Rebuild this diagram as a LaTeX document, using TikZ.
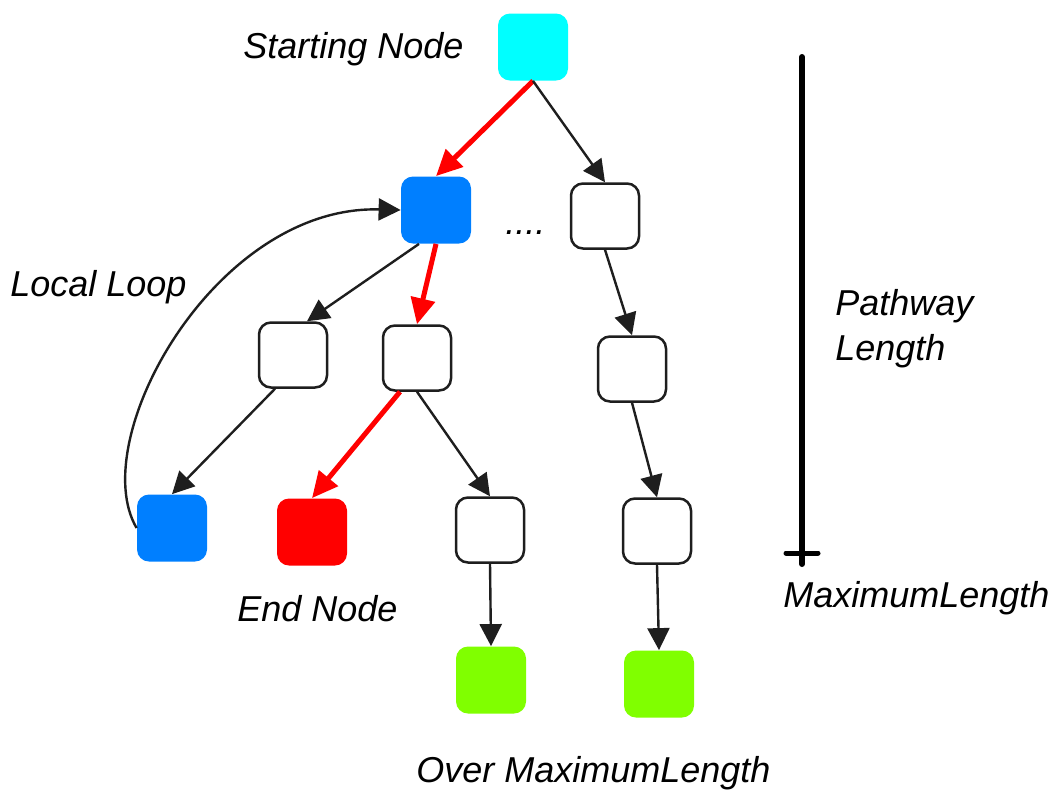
\documentclass[tikz,border=0pt]{standalone}
\usepackage{fontspec}
\setmainfont{Liberation Sans}
\usepackage{tikz}
\usetikzlibrary{arrows.meta}

\definecolor{startCyan}{HTML}{00FFFF}
\definecolor{loopBlue}{HTML}{007FFF}
\definecolor{endRed}{HTML}{FF0000}
\definecolor{overGreen}{HTML}{80FF00}
\definecolor{lineGray}{HTML}{1E1E1E}

\begin{document}
\begin{tikzpicture}[
    x=0.5pt, y=-0.5pt,
    box/.style={rectangle, rounded corners=6pt, minimum width=35pt, minimum height=33.5pt, inner sep=0pt},
    whiteBox/.style={box, draw=lineGray, line width=1.25pt, fill=white, minimum width=34pt, minimum height=32.5pt},
    label/.style={anchor=base west, inner sep=0pt, font=\fontsize{18pt}{22.5pt}\selectfont\itshape},
    edge/.style={draw=lineGray, line width=1.2pt, -{Triangle[length=11pt,width=11pt]}},
    redEdge/.style={draw=endRed, line width=2.5pt, -{Triangle[length=13pt,width=12pt]}}
    ]
    \useasboundingbox (0,0) rectangle (1059,794);

    % nodes
    \node[box, fill=startCyan] (startNode) at (533,47) {};
    \node[box, fill=loopBlue] (blueTop) at (436,210) {};
    \node[whiteBox] (rightA) at (605,216) {};
    \node[whiteBox] (leftMid) at (293,355) {};
    \node[whiteBox] (midMid) at (417,358) {};
    \node[whiteBox] (rightMid) at (632,369) {};
    \node[box, fill=loopBlue] (blueBottom) at (172,528) {};
    \node[box, fill=endRed] (endNode) at (312,532) {};
    \node[whiteBox] (midLow) at (490,530) {};
    \node[whiteBox] (rightLow) at (657,531) {};
    \node[box, fill=overGreen] (greenLeft) at (491,680) {};
    \node[box, fill=overGreen] (greenRight) at (659,684) {};

    % labels
    \node[label] (startText) at (243,58) {Starting Node};
    \node[label] (dotsText) at (505,234) {....};
    \node[label] (loopText) at (10,296) {Local Loop};
    \node[label, align=left] (pathText) at (835,360) {Pathway\\Length};
    \node[label] (maxText) at (783,607) {MaximumLength};
    \node[label] (endText) at (237,621) {End Node};
    \node[label] (overText) at (416,782) {Over MaximumLength};

    % arrows
    \draw[redEdge] (startNode.south) -- (blueTop.north);
    \draw[edge] (startNode.south) -- (rightA.north);
    \draw[edge] ([xshift=-8.5pt]blueTop.south) -- ([xshift=7pt]leftMid.north);
    \draw[redEdge] (blueTop.south) -- (midMid.north);
    \draw[edge] ([xshift=-9pt]leftMid.south) -- (blueBottom.north);
    \draw[redEdge] ([xshift=-8.5pt]midMid.south) -- (endNode.north);
    \draw[edge] (midMid.south) -- (midLow.north);
    \draw[edge] (rightA.south) -- (rightMid.north);
    \draw[edge] (rightMid.south) -- (rightLow.north);
    \draw[edge] (midLow.south) -- (greenLeft.north);
    \draw[edge] (rightLow.south) -- (greenRight.north);
    \draw[edge] (blueBottom.west) .. controls (85,440) and (215,205) .. (blueTop.west);

    % length bar
    \coordinate (barTop) at (802,57);
    \coordinate (barEnd) at (802,564);
    \coordinate (tickLeft) at (786,553);
    \coordinate (tickRight) at (818,553);
    \draw[line width=3pt, line cap=round] (barTop) -- (barEnd);
    \draw[line width=2.5pt, line cap=round] (tickLeft) -- (tickRight);

\end{tikzpicture}
\end{document}
